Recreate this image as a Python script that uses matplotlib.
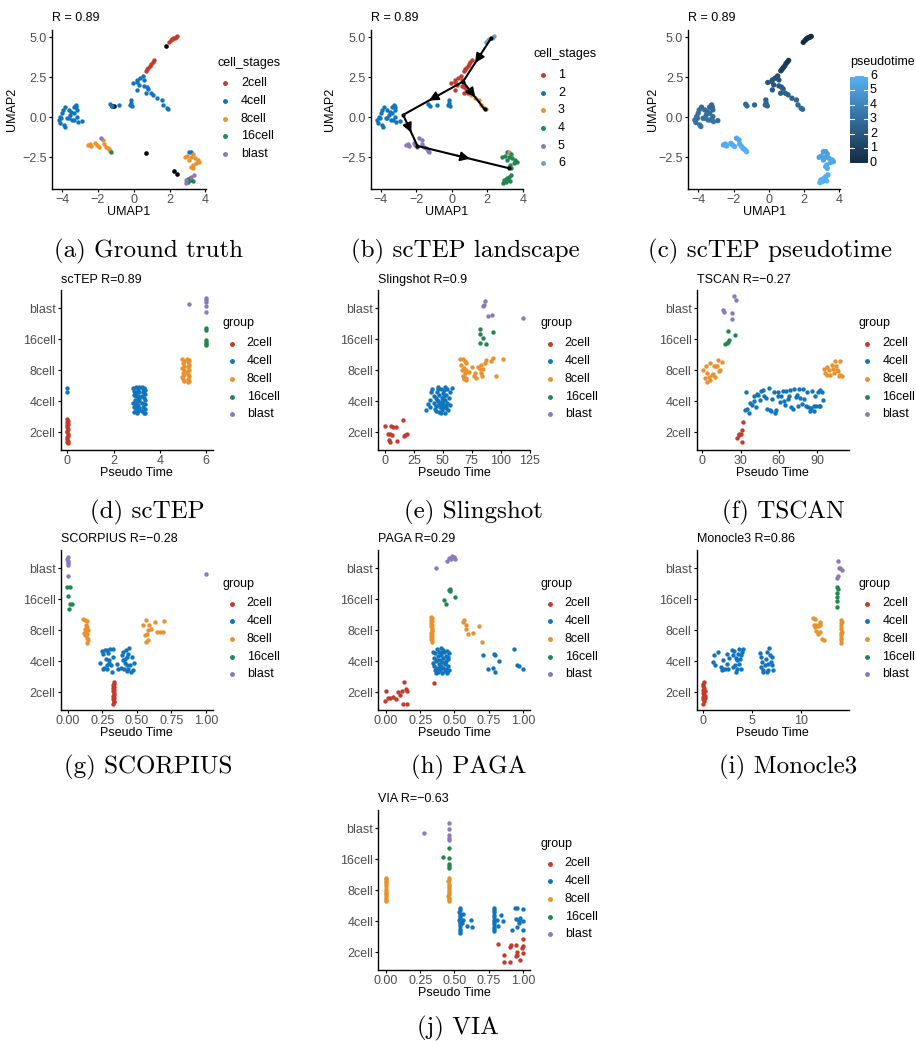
import matplotlib
matplotlib.use('Agg')
import matplotlib.pyplot as plt
import numpy as np
from matplotlib.colors import LinearSegmentedColormap
from matplotlib.lines import Line2D

plt.rcParams['font.family'] = ['Liberation Sans', 'DejaVu Sans']

W, H = 916, 1046

stages = ['2cell', '4cell', '8cell', '16cell', 'blast']
stage_colors = ['#C33B2B', '#1075BD', '#E8922F', '#22874F', '#8A79BC']
cluster_colors = stage_colors + ['#6E9FC2']

# ---- UMAP embedding (shared by panels a, b, c) ----
umap_x = [1.95, 2.05, 2.12, 2.2, 2.28, 2.35, 2.4,                       # top tip
          0.68, 0.75, 0.82, 0.9, 0.97, 1.05, 1.12,                      # diagonal
          -0.06, 0.2, 0.35, 0.5, 0.57, 0.28, 0.2, 0.57, 0.72, 0.81, 0.67, 0.94, 0.17,
          1.09, 1.31, 1.56, 1.65, 1.83, 1.91,                           # arm
          -0.17, -0.15, -0.2, -0.09, -1.31, -1.24, -0.81,
          -4.09, -4.0, -3.94, -3.81, -3.63, -3.72, -3.91, -4.13, -3.85, -3.63, -3.54, -3.44,
          -3.35, -3.31, -3.17, -3.13, -2.89, -3.26, -3.2, -3.17, -3.35, -3.24, -3.48, -4.19, -4.04,
          -2.57, -2.46, -2.39, -2.15, -2.06, -1.94, -1.69, -1.65, -1.54, -1.46, -1.39, -1.31, -1.26, -1.83,
          2.85, 2.98, 3.09, 3.22, 3.31, 3.41, 3.5, 3.28, 3.59, 3.65, 3.22, 3.31,
          3.04, 3.17, 3.28, 3.04, 3.13,
          2.89, 2.94, 3.22, 3.35,
          3.09, 3.22]
umap_y = [4.68, 4.8, 4.88, 4.95, 4.98, 5.02, 5.05,
          2.9, 3.0, 3.1, 3.2, 3.35, 3.45, 3.55,
          2.17, 2.33, 2.44, 2.58, 2.33, 2.02, 1.71, 1.96, 1.88, 1.77, 1.5, 1.5, 2.23,
          1.4, 1.19, 1.08, 0.77, 0.56, 0.5,
          1.08, 0.88, 0.77, 0.71, 0.81, 0.71, 0.77,
          0.04, 0.25, 0.46, 0.63, 0.46, -0.06, -0.48, -0.33, -0.58, -0.06, 0.15, -0.17,
          0.25, -0.17, 0.04, -0.27, -0.21, 0.71, 0.63, 0.46, 0.63, 0.77, 0.35, -0.17, -0.06,
          -1.73, -1.67, -1.79, -1.63, -1.73, -1.83, -1.42, -1.67, -1.83, -1.94, -2.0, -2.08, -2.15, -1.31,
          -2.5, -2.42, -2.67, -2.5, -2.29, -2.56, -2.83, -2.98, -2.67, -2.77, -3.08, -3.19,
          -3.88, -3.92, -3.98, -4.02, -3.81,
          -4.08, -3.92, -3.71, -3.6,
          -2.15, -2.15]
umap_stage = (['2cell'] * 14 + ['4cell'] * 51
              + ['8cell'] * 12 + ['16cell', 'blast']
              + ['8cell'] * 12 + ['16cell'] * 5 + ['blast'] * 4 + ['4cell'] * 2)
umap_cluster = ([6] * 7 + [1] * 7 + [1] * 13 + [3] * 6 + [2] * 7 + [2] * 25
                + [5] * 14 + [4] * 21 + [2, 3])
umap_ptime = [0.0, 0.0, 0.05, 0.0, 0.0, 0.05, 0.0,
              1.0, 0.95, 0.9, 0.85, 0.8, 0.7, 0.6,
              2.0, 1.8, 1.7, 1.6, 1.8, 2.0, 2.1, 2.0, 2.1, 2.2, 2.3, 2.3, 1.9,
              2.4, 2.5, 2.6, 2.7, 2.8, 2.8,
              2.5, 2.6, 2.6, 2.6, 2.8, 2.8, 2.7,
              3.1, 3.0, 3.0, 2.9, 3.0, 3.2, 3.3, 3.2, 3.3, 3.1, 3.0, 3.1,
              2.9, 3.1, 3.0, 3.2, 3.1, 2.8, 2.8, 2.9, 2.8, 2.8, 3.0, 3.2, 3.1,
              5.7, 5.7, 5.8, 5.6, 5.7, 5.8, 5.5, 5.7, 5.8, 5.9, 5.9, 6.0, 6.0, 5.6,
              5.3, 5.3, 5.4, 5.4, 5.2, 5.4, 5.5, 5.6, 5.5, 5.5, 5.7, 5.7,
              6.0, 6.0, 6.0, 6.0, 6.0,
              6.0, 6.0, 5.9, 5.8,
              5.1, 5.1]
# cells without a stage annotation
na_x = [1.78, -1.2, -1.1, 0.67, 2.26, 2.39]
na_y = [4.42, 0.72, 0.7, -2.25, -3.38, -3.56]

# scTEP trajectory nodes and edges
path_x = [2.22, 0.64, 1.85, -2.73, -1.93, 3.25]
path_y = [4.94, 2.23, 0.5, 0.15, -1.79, -3.19]
path_edges = [(0, 1), (1, 2), (1, 3), (3, 4), (4, 5)]

# ---- pseudotime vs stage (y: 1=2cell ... 5=blast, jittered) ----
tep_2cell = [(0.0, 1.42), (0.02, 1.36), (-0.01, 1.31), (0.01, 1.27), (0.0, 1.22), (-0.02, 1.16),
             (0.02, 1.1), (0.0, 1.04), (-0.01, 0.99), (0.01, 0.93), (0.02, 0.88), (-0.02, 0.83),
             (0.0, 0.77), (0.01, 0.72), (-0.01, 0.68), (0.02, 0.65)]
tep_4cell = [(0.0, 2.42), (0.0, 2.28),
             (2.86, 2.42), (2.95, 2.45), (3.05, 2.4), (3.1, 2.44), (2.9, 2.33), (3.0, 2.3), (3.08, 2.28),
             (2.88, 2.2), (2.97, 2.18), (3.04, 2.15), (3.12, 2.12), (2.92, 2.05), (3.0, 2.02), (3.1, 2.0),
             (2.86, 1.95), (2.95, 1.92), (3.06, 1.88), (2.9, 1.82), (3.0, 1.8), (3.1, 1.78), (2.96, 1.72),
             (3.05, 1.68), (2.9, 1.65), (3.02, 1.62), (3.12, 1.72), (2.98, 1.9), (3.08, 2.08), (2.93, 2.25),
             (3.25, 2.45), (3.33, 2.42), (3.38, 2.36), (3.28, 2.3), (3.35, 2.22), (3.22, 2.15), (3.3, 2.1),
             (3.38, 2.02), (3.25, 1.95), (3.34, 1.9), (3.28, 1.8), (3.36, 1.75), (3.24, 1.68), (3.32, 1.62),
             (3.38, 1.6), (3.27, 2.38)]
tep_8cell = [(4.98, 3.35), (5.04, 3.3), (5.0, 3.22), (5.06, 3.15), (4.97, 3.08), (5.03, 3.0), (5.0, 2.92),
             (5.05, 2.85), (4.98, 2.78), (5.02, 2.7), (5.06, 2.65), (5.18, 3.35), (5.25, 3.32), (5.22, 3.25),
             (5.28, 3.18), (5.2, 3.1), (5.26, 3.02), (5.19, 2.95), (5.24, 2.88), (5.28, 2.8), (5.2, 2.72),
             (5.25, 2.65), (5.22, 2.62)]
tep_16cell = [(6.0, 4.35), (6.0, 4.31), (5.99, 3.97), (6.01, 3.92), (6.0, 3.85), (5.99, 3.8)]
tep_blast = [(5.25, 5.14), (6.0, 5.34), (6.0, 5.28), (6.0, 5.2), (6.0, 5.06), (6.0, 4.87)]

sling_2cell = [(0, 1.2), (2.3, 0.94), (4.3, 0.94), (5.2, 1.18), (7.2, 1.16), (9.5, 1.16), (3.7, 0.73),
               (4.3, 0.67), (10.6, 0.7), (15.8, 1.38), (17.2, 0.89), (18.7, 0.95), (16.7, 0.86), (5.7, 0.91)]
sling_4cell = [(35.5, 1.72), (37, 1.9), (38.5, 2.05), (40, 2.3), (41, 2.4), (42, 2.15), (42.5, 1.95),
               (43, 1.75), (44, 2.1), (44.5, 1.85), (45, 2.3), (45.5, 2.45), (46, 2.0), (46.5, 1.65),
               (47, 2.2), (47.5, 1.8), (48, 2.4), (48.5, 1.95), (49, 2.1), (49.5, 1.7), (50, 2.25),
               (50.5, 1.9), (51, 2.35), (51.5, 1.62), (52, 2.05), (52.5, 1.78), (53, 2.2), (53.5, 1.95),
               (54, 2.38), (54.5, 1.7), (55, 2.1), (56, 2.28), (57.5, 2.42), (48, 1.6), (46, 2.38),
               (50, 1.82), (44, 1.68), (52, 2.45), (49, 2.0), (47, 1.9), (51, 2.15), (45, 2.05),
               (53, 1.85), (39, 1.82), (56, 1.88)]
sling_8cell = [(65.2, 3.35), (67.5, 3.35), (69, 3.28), (70.4, 3.23), (66.1, 3.17), (68.1, 3.06),
               (69.8, 3.01), (69, 2.9), (67.5, 2.8), (68.1, 2.71), (69.8, 2.69), (70.4, 2.74),
               (66.5, 3.0), (68.5, 2.75), (75.6, 3.1), (77.6, 2.9), (77, 2.8), (79, 2.74), (80.5, 3.1),
               (81.9, 3.03), (83.3, 3.17), (83.3, 2.9), (84.2, 2.82), (86.2, 3.23), (87.6, 3.33),
               (92, 3.28), (93.4, 3.39), (96.3, 2.82), (102, 3.35), (85, 3.05), (73, 2.95)]
sling_16cell = [(81.9, 4.32), (82.5, 4.17), (84.8, 4.03), (82.5, 3.89), (87.6, 3.85), (93.4, 4.23)]
sling_blast = [(86.8, 5.22), (84.8, 5.08), (85.6, 5.12), (89.1, 4.75), (92.5, 4.78), (119.3, 4.67)]

tscan_2cell = [(27.6, 0.81), (28.5, 0.9), (29.1, 0.94), (30.2, 0.94), (31, 0.67), (31.5, 1.08), (32.3, 1.34)]
tscan_4cell = [(34.1, 2.31), (33.6, 1.7), (34.9, 1.74), (37, 1.63), (37.5, 1.94), (38.8, 1.88),
               (40.2, 2.17), (40.9, 1.99), (42.3, 1.8), (43.3, 2.23), (44.1, 2.2), (44.9, 2.02),
               (45.9, 2.34), (47.5, 2.37), (48.6, 2.15), (49.6, 2.1), (50.7, 1.74), (52, 2.42),
               (52.8, 1.72), (53.8, 1.68), (54.9, 2.06), (55.9, 2.31), (56.7, 1.63), (58, 1.7),
               (59.1, 2.17), (59.8, 2.31), (61.2, 1.96), (62, 2.17), (63.3, 2.34), (63.8, 1.99),
               (64.8, 1.88), (65.9, 2.34), (67, 2.06), (67.7, 2.17), (69, 2.37), (69.8, 1.81),
               (71.1, 1.74), (72.2, 2.39), (73.2, 2.12), (74.3, 2.2), (75.1, 1.85), (76.1, 2.39),
               (76.9, 2.1), (78, 1.92), (79, 2.39), (80.1, 2.06), (81.1, 1.85), (82.2, 2.31),
               (83.2, 1.81), (84.3, 1.67), (85.3, 1.77), (86.4, 2.34), (87.4, 1.83), (88.5, 2.17),
               (89.5, 1.83), (90.6, 2.28), (91.6, 1.83), (92.7, 1.83), (93.7, 2.31), (94.8, 2.04),
               (92.7, 2.37), (87.9, 1.67)]
tscan_8cell = [(0.8, 2.99), (2.1, 2.74), (2.9, 3.14), (3.9, 2.9), (5, 2.77), (6, 3.23), (7.3, 2.85),
               (8.7, 2.88), (6, 2.69), (3.5, 2.63), (10, 2.77), (10.8, 3.12), (11.8, 3.14), (12.6, 3.33),
               (13.9, 2.99), (15.2, 3.25), (13.4, 2.97), (9, 3.12),
               (95.3, 3.03), (96.6, 2.9), (97.9, 3.1), (99.2, 2.99), (100.5, 2.85), (101.8, 3.17),
               (102.6, 3.03), (103.7, 2.9), (104.5, 3.3), (105.2, 3.12), (105.8, 3.01), (107.1, 2.8),
               (107.9, 3.28), (108.4, 2.84), (109.7, 2.81), (106.3, 2.96), (98, 2.85)]
tscan_16cell = [(18.1, 3.85), (19.2, 3.89), (20.5, 3.92), (21.3, 3.98), (20.5, 4.25), (25.7, 4.12)]
tscan_blast = [(16.5, 4.95), (17.3, 4.87), (23.6, 4.86), (23.1, 4.65), (24.9, 5.4), (26.5, 5.27)]

scorp_2cell = [(0.333, 1.32), (0.335, 1.27), (0.331, 1.22), (0.334, 1.17), (0.332, 1.12), (0.335, 1.07),
               (0.331, 1.02), (0.333, 0.97), (0.335, 0.92), (0.332, 0.87), (0.334, 0.82), (0.331, 0.77),
               (0.333, 0.72), (0.335, 0.67), (0.332, 0.62)]
scorp_4cell = [(0.234, 1.95), (0.246, 2.32), (0.258, 2.24), (0.263, 1.78), (0.271, 2.35), (0.278, 2.08),
               (0.283, 1.89), (0.287, 1.76), (0.295, 2.27), (0.302, 2.03), (0.307, 2.38), (0.314, 1.86),
               (0.321, 1.65), (0.326, 2.14), (0.258, 1.76), (0.283, 2.35), (0.297, 1.95), (0.331, 2.38),
               (0.355, 1.92), (0.367, 1.74), (0.384, 1.78), (0.391, 2.19), (0.399, 2.03), (0.403, 2.3),
               (0.408, 1.76), (0.415, 2.08), (0.42, 2.35), (0.428, 1.89), (0.432, 1.67), (0.44, 2.24),
               (0.447, 2.41), (0.452, 1.86), (0.456, 1.65), (0.464, 2.14), (0.471, 1.72), (0.483, 1.95),
               (0.428, 2.14), (0.418, 1.95), (0.44, 1.74)]
scorp_8cell = [(0.114, 3.35), (0.126, 3.32), (0.138, 3.29), (0.133, 3.16), (0.138, 3.11), (0.123, 3.03),
               (0.133, 2.95), (0.143, 2.89), (0.128, 2.84), (0.138, 2.75), (0.148, 2.68), (0.138, 2.6),
               (0.145, 2.99), (0.121, 2.92),
               (0.548, 3.18), (0.56, 2.84), (0.568, 3.32), (0.572, 2.89), (0.58, 2.68), (0.565, 2.62),
               (0.585, 3.0), (0.602, 3.03), (0.633, 3.25), (0.65, 2.95), (0.669, 2.95), (0.688, 2.93),
               (0.698, 3.3), (0.589, 3.16)]
scorp_16cell = [(-0.007, 4.38), (0.02, 4.38), (0.004, 4.1), (0.017, 3.86), (0.029, 3.83), (0.012, 3.68)]
scorp_blast = [(0.0, 5.35), (-0.002, 5.3), (0.002, 5.24), (0.0, 5.16), (0.001, 5.11), (0.0, 4.76), (1.0, 4.8)]

paga_2cell = [(0.0, 1.05), (-0.005, 0.7), (0.017, 0.82), (0.029, 0.81), (0.049, 0.84), (0.073, 0.78),
              (0.09, 1.0), (0.102, 0.89), (0.114, 1.05), (0.133, 1.32), (0.143, 1.11), (0.15, 1.05),
              (0.126, 0.62), (0.15, 0.62), (0.35, 1.3)]
paga_4cell = [(0.345, 2.3), (0.35, 2.1), (0.352, 1.85), (0.355, 1.7), (0.36, 2.25), (0.365, 2.0),
              (0.37, 1.78), (0.372, 2.38), (0.378, 1.65), (0.38, 2.15), (0.385, 1.92), (0.39, 2.3),
              (0.392, 1.72), (0.395, 2.05), (0.4, 2.42), (0.402, 1.85), (0.405, 2.2), (0.408, 1.62),
              (0.41, 1.98), (0.415, 2.35), (0.418, 1.78), (0.42, 2.1), (0.425, 2.28), (0.428, 1.9),
              (0.43, 1.68), (0.435, 2.18), (0.438, 2.0), (0.44, 1.75), (0.445, 2.32), (0.448, 1.62),
              (0.45, 2.08), (0.455, 1.85), (0.46, 2.25), (0.462, 1.7), (0.34, 1.95), (0.362, 1.62),
              (0.375, 2.05), (0.398, 1.8), (0.412, 2.28), (0.432, 1.95), (0.452, 2.12), (0.445, 1.65),
              (0.709, 2.19), (0.789, 2.24), (0.794, 2.19), (0.745, 1.76), (0.782, 1.78), (0.794, 1.65),
              (0.823, 2.0), (0.932, 2.38), (0.956, 1.89), (0.968, 1.84), (1.0, 1.74)]
paga_8cell = [(0.33, 3.43), (0.336, 3.38), (0.331, 3.33), (0.338, 3.28), (0.332, 3.22), (0.337, 3.17),
              (0.33, 3.12), (0.335, 3.07), (0.333, 3.02), (0.338, 2.97), (0.331, 2.92), (0.336, 2.87),
              (0.332, 2.82), (0.337, 2.77), (0.33, 2.72), (0.335, 2.67), (0.333, 2.62),
              (0.563, 3.25), (0.57, 3.32), (0.583, 3.16), (0.587, 3.03), (0.6, 2.89), (0.636, 2.92),
              (0.68, 3.12), (0.701, 2.62)]
paga_16cell = [(0.461, 4.3), (0.471, 4.27), (0.466, 4.32), (0.502, 4.08), (0.422, 3.97), (0.442, 3.84)]
paga_blast = [(0.369, 5.02), (0.447, 5.24), (0.461, 5.32), (0.485, 5.41), (0.495, 5.35), (0.502, 5.29),
              (0.478, 5.29)]

mono_2cell = [(0.05, 1.32), (0.0, 1.25), (-0.05, 1.18), (0.1, 1.12), (0.0, 1.08), (0.15, 1.02),
              (-0.02, 0.98), (0.08, 0.92), (0.2, 0.88), (0.0, 0.84), (0.12, 0.8), (-0.05, 0.76),
              (0.05, 0.72), (0.18, 0.82), (0.0, 0.62)]
mono_4cell = [(1.03, 1.97), (1.1, 2.19), (1.2, 1.86), (1.54, 2.3), (1.82, 1.81), (1.88, 1.7), (2.05, 2.03),
              (2.23, 1.76), (2.4, 2.24), (2.47, 1.92), (2.57, 1.76), (2.67, 2.1), (2.91, 2.35), (3.08, 2.19),
              (3.15, 2.32), (3.25, 1.86), (3.36, 1.65), (3.42, 2.03), (3.53, 2.24), (3.63, 2.38), (3.77, 2.08),
              (3.84, 1.76), (3.94, 2.3), (4.11, 2.38), (3.7, 1.92), (3.36, 2.1), (3.01, 1.81), (3.42, 1.76),
              (3.84, 2.19), (2.05, 1.73),
              (5.82, 2.27), (5.92, 2.14), (5.99, 1.97), (5.89, 1.81), (6.1, 1.7), (6.16, 1.65), (6.34, 1.86),
              (6.44, 2.08), (6.51, 2.3), (6.61, 1.92), (6.68, 1.7), (6.78, 2.41), (6.85, 2.19), (6.95, 1.97),
              (7.05, 2.14), (7.12, 1.7), (7.02, 1.86), (6.58, 1.65)]
mono_8cell = [(11.2, 3.4), (11.37, 3.18), (11.47, 3.11), (11.58, 3.16), (11.71, 3.14), (11.82, 3.16),
              (11.92, 3.18), (11.99, 3.27), (11.58, 2.97), (11.71, 2.89), (11.92, 2.95), (12.16, 2.73),
              (12.33, 2.68), (11.47, 3.35),
              (14.11, 3.32), (14.14, 3.22), (14.08, 3.14), (14.11, 3.03), (14.18, 2.95), (14.11, 2.84),
              (14.14, 2.76), (14.08, 2.68), (14.11, 2.6), (14.18, 3.27), (14.11, 2.92)]
mono_16cell = [(13.7, 4.38), (13.77, 4.34), (13.7, 4.19), (13.74, 4.08), (13.7, 3.95), (13.74, 3.76)]
mono_blast = [(13.77, 5.24), (13.87, 5.02), (13.97, 5.0), (14.21, 4.95), (13.7, 4.7), (13.8, 4.75)]

via_2cell = [(0.818, 1.26), (0.862, 0.91), (0.903, 0.68), (0.864, 0.68), (0.915, 1.22), (0.908, 1.16),
             (0.951, 1.24), (0.956, 0.91), (0.951, 0.86), (0.976, 0.75), (1.0, 1.43), (1.0, 1.18),
             (1.0, 0.97), (0.995, 1.13), (0.956, 1.0)]
via_4cell = [(0.537, 2.43), (0.54, 2.37), (0.536, 2.3), (0.542, 2.24), (0.538, 2.17), (0.54, 2.1),
             (0.536, 2.03), (0.542, 1.97), (0.538, 1.9), (0.54, 1.83), (0.537, 1.76), (0.541, 1.69),
             (0.539, 1.62), (0.56, 2.22), (0.565, 2.05), (0.59, 1.85), (0.62, 2.03), (0.625, 1.8),
             (0.555, 1.95),
             (0.787, 2.43), (0.79, 2.36), (0.788, 2.28), (0.79, 2.2), (0.788, 2.12), (0.79, 2.04),
             (0.788, 1.97), (0.79, 1.9), (0.788, 1.82), (0.79, 1.75), (0.787, 1.68), (0.81, 2.05),
             (0.82, 1.85), (0.84, 2.2), (0.855, 2.0),
             (0.94, 2.43), (0.96, 2.43), (1.0, 2.38), (0.95, 2.08), (0.97, 2.0), (0.975, 1.95),
             (1.0, 2.0), (1.0, 1.72), (0.92, 1.72), (0.955, 1.82), (0.98, 2.1)]
via_8cell = [(-0.003, 3.4), (0.002, 3.35), (0.0, 3.3), (-0.002, 3.25), (0.003, 3.2), (0.0, 3.12),
             (-0.003, 3.05), (0.002, 2.98), (0.0, 2.92), (-0.002, 2.86), (0.003, 2.8), (0.0, 2.74),
             (-0.002, 2.68), (0.001, 2.64),
             (0.458, 3.4), (0.462, 3.34), (0.456, 3.28), (0.463, 3.2), (0.459, 3.14), (0.461, 3.08),
             (0.457, 3.0), (0.462, 2.94), (0.46, 2.88), (0.456, 2.8), (0.463, 2.74), (0.459, 2.68),
             (0.461, 2.64)]
via_16cell = [(0.46, 4.37), (0.46, 4.05), (0.46, 3.83), (0.46, 3.78), (0.46, 3.72), (0.417, 4.08)]
via_blast = [(0.46, 5.18), (0.46, 4.97), (0.46, 4.77), (0.46, 4.7), (0.46, 4.62), (0.277, 4.84)]

fig = plt.figure(figsize=(W / 100, H / 100), dpi=100)


def fx(px):
    return px / W


def fy(py):
    return 1 - py / H


def add_ax(left, top, right, bottom):
    ax = fig.add_axes([fx(left), fy(bottom), (right - left) / W, (bottom - top) / H])
    for s in ['top', 'right']:
        ax.spines[s].set_visible(False)
    for s in ['left', 'bottom']:
        ax.spines[s].set_linewidth(1.0)
        ax.spines[s].set_color('black')
    ax.tick_params(length=2.5, width=0.8, color='black', labelsize=9,
                   labelcolor='#4D4D4D', pad=1.2)
    ax.set_facecolor('none')
    return ax


def legend(title, labels, colors, x_title, y_title, x_dot, x_lab, y0, step=17.7):
    fig.text(fx(x_title), fy(y_title), title, fontsize=9, va='center', ha='left')
    for k, (lab, c) in enumerate(zip(labels, colors)):
        y = y0 + k * step
        fig.add_artist(Line2D([fx(x_dot)], [fy(y)], marker='o', ms=2.5, color=c,
                              linestyle='none', transform=fig.transFigure))
        fig.text(fx(x_lab), fy(y), lab, fontsize=9, va='center', ha='left')


def umap_axes(left, right, ylab_x, title):
    ax = add_ax(left, 30, right, 189)
    ax.set_xlim(-4.56, 4.03)
    ax.set_ylim(-4.48, 5.45)
    ax.set_xticks([-4, -2, 0, 2, 4])
    ax.set_yticks([-2.5, 0, 2.5, 5])
    ax.set_yticklabels(['\u22122.5', '0.0', '2.5', '5.0'])
    fig.text(fx(left), fy(18), title, fontsize=9, va='center', ha='left')
    fig.text(fx((left + right) / 2), fy(212), 'UMAP1', fontsize=9, ha='center', va='center')
    fig.text(fx(ylab_x), fy(109.5), 'UMAP2', fontsize=9, ha='center', va='center', rotation=90)
    return ax


ux = np.array(umap_x)
uy = np.array(umap_y)
ust = np.array(umap_stage)
ucl = np.array(umap_cluster)

# (a) ground truth stages
ax = umap_axes(52, 206, 12, 'R = 0.89')
ax.scatter(na_x, na_y, s=11, color='black', linewidths=0, zorder=3)
for k, st in enumerate(stages):
    m = ust == st
    ax.scatter(ux[m], uy[m], s=10, color=stage_colors[k], linewidths=0, zorder=3)
legend('cell_stages', stages, stage_colors, 217, 63.3, 225, 241, 83.3)

# (b) scTEP clusters with trajectory
ax = umap_axes(370.7, 523.3, 330, 'R = 0.89')
for k in range(1, 7):
    m = ucl == k
    ax.scatter(ux[m], uy[m], s=10, color=cluster_colors[k - 1], linewidths=0, zorder=3)
for a, b in path_edges:
    x0, y0, x1, y1 = path_x[a], path_y[a], path_x[b], path_y[b]
    ax.plot([x0, x1], [y0, y1], color='black', lw=1.5, zorder=4, solid_capstyle='round')
    ax.annotate('', xy=(x0 + 0.57 * (x1 - x0), y0 + 0.57 * (y1 - y0)),
                xytext=(x0 + 0.43 * (x1 - x0), y0 + 0.43 * (y1 - y0)),
                arrowprops=dict(arrowstyle='-|>', color='black', lw=1.3,
                                mutation_scale=14, shrinkA=0, shrinkB=0), zorder=5)
ax.scatter(path_x, path_y, s=9, color='black', zorder=5, linewidths=0)
legend('cell_stages', [str(k) for k in range(1, 7)], cluster_colors, 534, 54.3, 543, 558, 75)

# (c) scTEP pseudotime
cmap = LinearSegmentedColormap.from_list('ggblue', ['#132B43', '#56B1F7'])
ax = umap_axes(688.3, 840, 653.3, 'R = 0.89')
ax.scatter(ux, uy, c=umap_ptime, cmap=cmap, vmin=0, vmax=6, s=15, linewidths=0, zorder=3)
cax = fig.add_axes([fx(850), fy(164), 18 / W, 90 / H])
grad = np.linspace(0, 6, 200).reshape(-1, 1)
cax.imshow(grad, cmap=cmap, vmin=0, vmax=6, aspect='auto', origin='lower',
           extent=(0, 1, 0, 6))
cax.set_xlim(0, 1)
cax.set_ylim(-0.09, 6.14)
cax.axis('off')
for v in range(7):
    cax.plot([0, 0.2], [v, v], color='white', lw=0.8)
    cax.plot([0.8, 1], [v, v], color='white', lw=0.8)
    fig.text(fx(870), fy(162.7 - v * 14.45), str(v), fontsize=9, va='center', ha='left')
fig.text(fx(850), fy(62), 'pseudotime', fontsize=9, va='center', ha='left')


def pseudo_panel(left, top, title, groups, xlim, xticks, xticklabels, leg_x):
    ax = add_ax(left, top, left + 152, top + 160)
    for k, pts in enumerate(groups):
        ax.scatter([p[0] for p in pts], [p[1] for p in pts], s=10,
                   color=stage_colors[k], linewidths=0, zorder=3)
    ax.set_xlim(*xlim)
    ax.set_ylim(0.42, 5.59)
    ax.set_yticks([1, 2, 3, 4, 5])
    ax.set_yticklabels(stages)
    ax.set_xticks(xticks)
    ax.set_xticklabels(xticklabels)
    fig.text(fx(left), fy(top - 10.5), title, fontsize=9, va='center', ha='left')
    fig.text(fx(left + 76), fy(top + 183), 'Pseudo Time', fontsize=9, ha='center', va='center')
    legend('group', stages, stage_colors, leg_x, top + 33.5, leg_x + 9, leg_x + 24, top + 53.5)
    return ax


frac_ticks = [0, 0.25, 0.5, 0.75, 1.0]
frac_labels = ['0.00', '0.25', '0.50', '0.75', '1.00']

pseudo_panel(60.7, 290, 'scTEP R=0.89',
             [tep_2cell, tep_4cell, tep_8cell, tep_16cell, tep_blast],
             (-0.29, 6.29), [0, 2, 4, 6], ['0', '2', '4', '6'], 222.7)
pseudo_panel(378.3, 290, 'Slingshot R=0.9',
             [sling_2cell, sling_4cell, sling_8cell, sling_16cell, sling_blast],
             (-5.8, 125.6), [0, 25, 50, 75, 100, 125], ['0', '25', '50', '75', '100', '125'], 540.7)
pseudo_panel(696.7, 290, 'TSCAN R=\u22120.27',
             [tscan_2cell, tscan_4cell, tscan_8cell, tscan_16cell, tscan_blast],
             (-4.4, 114.9), [0, 30, 60, 90], ['0', '30', '60', '90'], 858.3)
pseudo_panel(60.7, 550, 'SCORPIUS R=\u22120.28',
             [scorp_2cell, scorp_4cell, scorp_8cell, scorp_16cell, scorp_blast],
             (-0.05, 1.05), frac_ticks, frac_labels, 222.7)
pseudo_panel(378.3, 550, 'PAGA R=0.29',
             [paga_2cell, paga_4cell, paga_8cell, paga_16cell, paga_blast],
             (-0.056, 1.054), frac_ticks, frac_labels, 540.7)
pseudo_panel(696.7, 550, 'Monocle3 R=0.86',
             [mono_2cell, mono_4cell, mono_8cell, mono_16cell, mono_blast],
             (-0.68, 14.91), [0, 5, 10], ['0', '5', '10'], 858.3)
pseudo_panel(378.3, 810, 'VIA R=\u22120.63',
             [via_2cell, via_4cell, via_8cell, via_16cell, via_blast],
             (-0.056, 1.054), frac_ticks, frac_labels, 540.7)

# sub-figure captions
captions = [('(a) Ground truth', 149, 251), ('(b) scTEP landscape', 465, 251),
            ('(c) scTEP pseudotime', 770, 251),
            ('(d) scTEP', 147, 512), ('(e) Slingshot', 473, 512), ('(f) TSCAN', 783, 512),
            ('(g) SCORPIUS', 148, 767), ('(h) PAGA', 469, 767), ('(i) Monocle3', 788, 767),
            ('(j) VIA', 458, 1028)]
for text, cx, cy in captions:
    fig.text(fx(cx), fy(cy), text, family='cmr10', fontsize=18, ha='center', va='center')

fig.savefig('out.png', dpi=100, facecolor='white')
